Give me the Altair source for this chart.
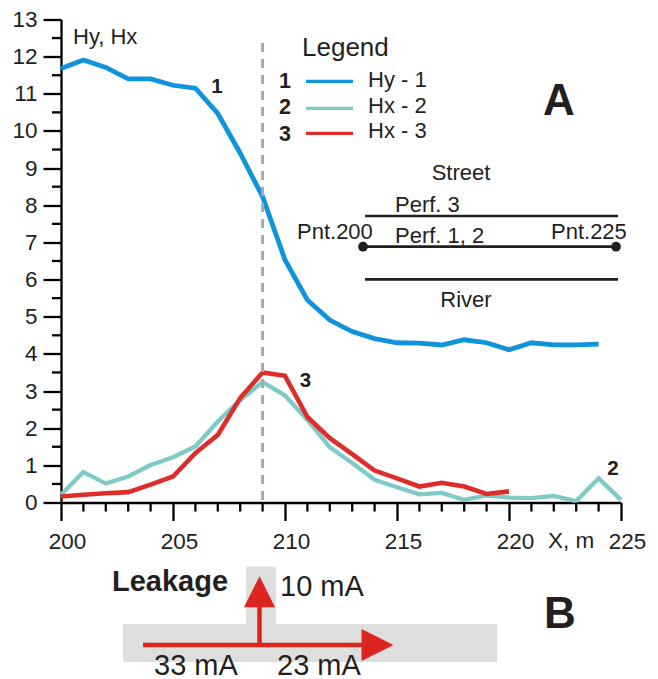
import altair as alt
import pandas as pd

# ---------------- data ----------------
x_pos = list(range(200, 226))
hy1 = [11.68, 11.91, 11.71, 11.40, 11.40, 11.23, 11.15, 10.47, 9.40, 8.23,
       6.53, 5.45, 4.91, 4.60, 4.41, 4.30, 4.29, 4.24, 4.38, 4.30,
       4.11, 4.30, 4.24, 4.24, 4.26]
hx2 = [0.21, 0.82, 0.51, 0.70, 1.01, 1.22, 1.51, 2.18, 2.76, 3.24,
       2.88, 2.22, 1.49, 1.06, 0.61, 0.41, 0.22, 0.26, 0.07, 0.19,
       0.13, 0.12, 0.18, 0.04, 0.65, 0.07]
hx3 = [0.16, 0.21, 0.25, 0.28, 0.48, 0.70, 1.33, 1.82, 2.81, 3.50,
       3.41, 2.30, 1.73, 1.30, 0.86, 0.65, 0.43, 0.53, 0.43, 0.23, 0.30]
series_names = ["Hy - 1", "Hx - 2", "Hx - 3"]
series_nums = ["1", "2", "3"]
series_colors = ["#0f94db", "#7ecac6", "#dc2d29"]
leak_x = 209
y_ticks = list(range(0, 14))
x_ticks = list(range(200, 226, 5))
y_minor = [v + 0.5 for v in range(0, 13)]
x_minor = [v for v in range(200, 226) if v % 5 != 0]

rows = []
for name, vals in zip(series_names, [hy1, hx2, hx3]):
    for xv, yv in zip(x_pos, vals):
        rows.append({"x": xv, "v": yv, "s": name})
df = pd.DataFrame(rows)

# ---------------- layout ----------------
W, H = 560, 483
OX, OY = 61, 19.5
FONT = "Liberation Sans"
INK = "#231f20"
GRAY = "#dededc"
RED = "#dc2520"


def X(a):
    return a - OX


def Y(b):
    return b - OY


one = pd.DataFrame({"k": [0]})

xs = alt.Scale(domain=[200, 225], nice=False, zero=False)
ys = alt.Scale(domain=[0, 13], nice=False, zero=False)

x_axis = alt.Axis(values=x_ticks, tickSize=18, labelPadding=10, labelOffset=6,
                  labelFontSize=22.5, labelFont=FONT, labelColor=INK,
                  labelFlush=False, labelOverlap=False, grid=False,
                  domainColor="black", domainWidth=2.3, tickColor="black",
                  tickWidth=2.3, title=None)
y_axis = alt.Axis(values=y_ticks, tickSize=18, labelPadding=6,
                  labelFontSize=22.5, labelFont=FONT, labelColor=INK,
                  labelFlush=False, labelOverlap=False, grid=False,
                  domainColor="black", domainWidth=2.3, tickColor="black",
                  tickWidth=2.3, title=None)

layers = []

# series lines
widths = [4.8, 4.3, 4.6]
for i, name in enumerate(series_names):
    layers.append(
        alt.Chart(df).transform_filter(alt.datum.s == name)
        .mark_line(color=series_colors[i], strokeWidth=widths[i], strokeJoin="miter")
        .encode(x=alt.X("x:Q", scale=xs, axis=x_axis),
                y=alt.Y("v:Q", scale=ys, axis=y_axis),
                order="x:Q")
    )

# minor ticks
layers.append(
    alt.Chart(pd.DataFrame({"v": y_minor})).mark_rule(color="black", strokeWidth=2.3)
    .encode(y=alt.Y("v:Q", scale=ys, axis=y_axis), x=alt.value(-9), x2=alt.value(0))
)
layers.append(
    alt.Chart(pd.DataFrame({"x": x_minor})).mark_rule(color="black", strokeWidth=2.3)
    .encode(x=alt.X("x:Q", scale=xs, axis=x_axis), y=alt.value(H), y2=alt.value(H + 9))
)

# dashed leakage line
layers.append(
    alt.Chart(pd.DataFrame({"x": [leak_x]})).mark_rule(color="#a9a9a9", strokeWidth=3, strokeDash=[9, 7])
    .encode(x=alt.X("x:Q", scale=xs, axis=x_axis), y=alt.value(Y(43)), y2=alt.value(H))
)


def txt(t, x, y, size, weight="normal", align="left"):
    return alt.Chart(one).mark_text(
        text=t, fontSize=size, fontWeight=weight, align=align, baseline="alphabetic",
        font=FONT, color=INK
    ).encode(x=alt.value(X(x)), y=alt.value(Y(y)))


def hline(x1, x2, y, color=INK, w=2.7):
    return alt.Chart(one).mark_rule(color=color, strokeWidth=w).encode(
        x=alt.value(X(x1)), x2=alt.value(X(x2)), y=alt.value(Y(y)))


def box(x1, x2, y1, y2, color=GRAY):
    return alt.Chart(one).mark_rect(color=color).encode(
        x=alt.value(X(x1)), x2=alt.value(X(x2)), y=alt.value(Y(y1)), y2=alt.value(Y(y2)))


def tri(path, cx, cy, size):
    return alt.Chart(one).mark_point(shape=path, size=size, filled=True, color=RED,
                                     opacity=1, strokeWidth=0).encode(
        x=alt.value(X(cx)), y=alt.value(Y(cy)))


def dot(cx, cy):
    return alt.Chart(one).mark_point(filled=True, color=INK, size=95, opacity=1,
                                     shape="circle").encode(
        x=alt.value(X(cx)), y=alt.value(Y(cy)))


# axis titles / labels
layers.append(txt("Hy, Hx", 73, 44, 22))
layers.append(txt("X, m", 548, 548, 22.5))

# legend
layers.append(txt("Legend", 302, 56, 26))
leg_y = [81.3, 108.3, 133.3]
leg_num_base = [88.3, 114, 140.5]
leg_base = [87, 113, 138]
for i in range(3):
    layers.append(txt(series_nums[i], 285, leg_num_base[i], 21.5, "bold", "center"))
    layers.append(hline(306, 353, leg_y[i], series_colors[i], 3.2))
    layers.append(txt(series_names[i], 368, leg_base[i], 22))

# curve labels
layers.append(txt("1", 217, 92.5, 20.5, "bold", "center"))
layers.append(txt("3", 305.5, 386.5, 20.5, "bold", "center"))
layers.append(txt("2", 613, 475, 20.5, "bold", "center"))

# panel letters
layers.append(txt("A", 559, 115, 44, "bold", "center"))
layers.append(txt("B", 560, 628, 44, "bold", "center"))

# street schematic
layers.append(txt("Street", 461, 180, 22, align="center"))
layers.append(txt("Perf. 3", 395, 212, 22))
layers.append(hline(365, 618, 216))
layers.append(txt("Pnt.200", 297, 239, 22))
layers.append(txt("Perf. 1, 2", 395, 242.5, 22))
layers.append(txt("Pnt.225", 551, 239, 22))
layers.append(hline(363, 616, 246.7))
layers.append(dot(363, 246.7))
layers.append(dot(616, 246.7))
layers.append(hline(365, 618, 279.3))
layers.append(txt("River", 466, 307, 22, align="center"))

# panel B
layers.append(box(123, 497, 624, 662))
layers.append(box(246, 276, 566.7, 624.5))
layers.append(hline(143, 366, 645, RED, 4.5))
layers.append(alt.Chart(one).mark_rule(color=RED, strokeWidth=4.5).encode(
    x=alt.value(X(259.5)), y=alt.value(Y(645)), y2=alt.value(Y(604))))
layers.append(tri("M-1,-1L1,0L-1,1Z", 377.5, 645, 1024))
layers.append(tri("M-1,1L0,-1L1,1Z", 259.5, 591.7, 961))
layers.append(txt("Leakage", 112, 591, 29, "bold"))
layers.append(txt("10 mA", 280, 595.5, 29))
layers.append(txt("33 mA", 154, 674.5, 29))
layers.append(txt("23 mA", 277, 674.5, 29))

chart = alt.layer(*layers).properties(
    width=W, height=H,
    padding={"left": OX, "top": OY, "right": 658 - OX - W, "bottom": 679 - OY - H},
    autosize=alt.AutoSizeParams(type="none"),
    background="white",
).configure_view(stroke=None)

chart.save("out.html", embed_options={"renderer": "svg", "actions": False})
